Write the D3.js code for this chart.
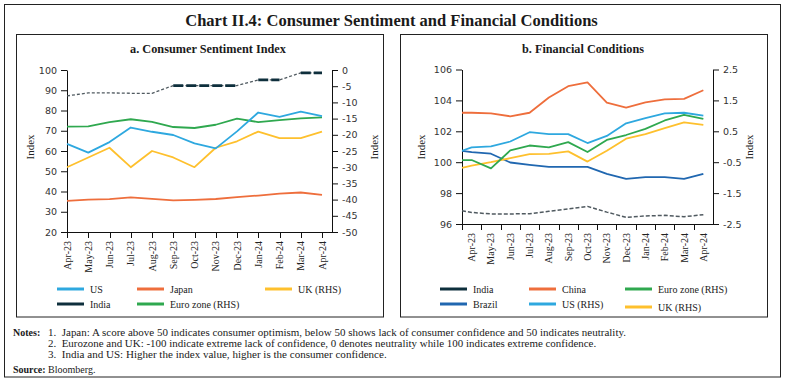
<!DOCTYPE html>
<html>
<head>
<meta charset="utf-8">
<script src="https://cdn.jsdelivr.net/npm/d3@7"></script>
<style>
  html, body { margin: 0; padding: 0; background: #fff; }
  svg { display: block; }
</style>
</head>
<body>
<svg id="chart" width="786" height="383"></svg>
<script>
// ---------------- DATA ----------------
const months = ["Apr-23","May-23","Jun-23","Jul-23","Aug-23","Sep-23","Oct-23","Nov-23","Dec-23","Jan-24","Feb-24","Mar-24","Apr-24"];

// Panel a: Consumer Sentiment Index
const usSent    = [63.5, 59.2, 64.4, 71.6, 69.5, 67.9, 63.8, 61.3, 69.7, 79.0, 76.9, 79.4, 77.2];
const japanSent = [35.4, 36.0, 36.2, 37.1, 36.4, 35.6, 35.9, 36.3, 37.2, 38.0, 39.0, 39.5, 38.3];
const indiaSent = [87.2, 88.7, 88.7, 88.5, 88.5, 92.3, 92.3, 92.3, 92.3, 95.1, 95.1, 98.6, 98.6];
const indiaSentSolid = [["Sep-23","Dec-23"], ["Jan-24","Feb-24"], ["Mar-24","Apr-24"]];
const ukSent    = [-30, -27, -24, -30, -25, -27, -30, -24, -22, -19, -21, -21, -19];       // RHS
const euroSent  = [-17.5, -17.4, -16.1, -15.2, -16.0, -17.6, -17.9, -16.9, -15.0, -16.1, -15.5, -14.9, -14.6]; // RHS

const sentLeftTicks  = [20, 30, 40, 50, 60, 70, 80, 90, 100];
const sentRightTicks = [-50, -45, -40, -35, -30, -25, -20, -15, -10, -5, 0];

// Panel b: Financial Conditions
const indiaFC  = [96.75, 96.65, 96.65, 96.67, 96.82, 96.97, 97.14, 96.77, 96.43, 96.52, 96.56, 96.47, 96.60];
const chinaFC  = [103.20, 103.16, 102.97, 103.20, 104.19, 104.92, 105.16, 103.85, 103.54, 103.87, 104.06, 104.10, 104.66];
const brazilFC = [100.65, 100.55, 99.98, 99.83, 99.70, 99.70, 99.70, 99.25, 98.92, 99.03, 99.03, 98.92, 99.25];
const usFC     = [-0.02, 0.01, 0.17, 0.47, 0.41, 0.41, 0.12, 0.35, 0.76, 0.93, 1.08, 1.10, 1.01];   // RHS
const euroFC   = [-0.43, -0.70, -0.12, 0.04, -0.02, 0.15, -0.17, 0.22, 0.38, 0.58, 0.85, 1.03, 0.90]; // RHS
const ukFC     = [-0.61, -0.50, -0.37, -0.24, -0.23, -0.15, -0.48, -0.13, 0.26, 0.41, 0.60, 0.79, 0.71]; // RHS
// value of each line where it meets the left axis (India, China, Brazil, US, Euro zone, UK)
const fcLeftEdge = [96.86, 103.20, 100.74, -0.13, -0.43, -0.68];

const fcLeftTicks  = [96, 98, 100, 102, 104, 106];
const fcRightTicks = [-2.5, -1.5, -0.5, 0.5, 1.5, 2.5];

const notes = [
  "1.  Japan: A score above 50 indicates consumer optimism, below 50 shows lack of consumer confidence and 50 indicates neutrality.",
  "2.  Eurozone and UK: -100 indicate extreme lack of confidence, 0 denotes neutrality while 100 indicates extreme confidence.",
  "3.  India and US: Higher the index value, higher is the consumer confidence."
];

// ---------------- STYLE ----------------
const C = {
  lightBlue: "#2EA8DF",
  orange: "#EE6E3C",
  yellow: "#FEC02D",
  dark: "#0E2F3C",
  green: "#2FA84F",
  blue: "#2067B0",
  dashGray: "#505a60"
};
const SERIF = "'Liberation Serif', 'DejaVu Serif', serif";
const SANS = "'DejaVu Sans', 'Liberation Sans', sans-serif";

const svg = d3.select("#chart");
svg.append("rect").attr("width", 786).attr("height", 383).attr("fill", "#fff");

function fitText(sel, width) {
  const node = sel.node();
  const w = node.getComputedTextLength();
  const fs = parseFloat(sel.attr("font-size"));
  sel.attr("font-size", (fs * width / w).toFixed(2));
  return sel;
}

// Outer frame and panels
svg.append("rect").attr("x", 4.5).attr("y", 4.5).attr("width", 776).attr("height", 372.5)
  .attr("fill", "none").attr("stroke", "#222").attr("stroke-width", 1);
svg.append("rect").attr("x", 16.5).attr("y", 34.5).attr("width", 367).attr("height", 282.5)
  .attr("fill", "none").attr("stroke", "#222").attr("stroke-width", 1);
svg.append("rect").attr("x", 400.5).attr("y", 34.5).attr("width", 367).attr("height", 282.5)
  .attr("fill", "none").attr("stroke", "#222").attr("stroke-width", 1);

// Title
fitText(svg.append("text").attr("x", 391.5).attr("y", 26).attr("text-anchor", "middle")
  .attr("font-family", SERIF).attr("font-weight", "bold").attr("font-size", 17).attr("fill", "#1a1a1a")
  .text("Chart II.4: Consumer Sentiment and Financial Conditions"), 413);

fitText(svg.append("text").attr("x", 208).attr("y", 53).attr("text-anchor", "middle")
  .attr("font-family", SERIF).attr("font-weight", "bold").attr("font-size", 12).attr("fill", "#1a1a1a")
  .text("a. Consumer Sentiment Index"), 156);
fitText(svg.append("text").attr("x", 583).attr("y", 53).attr("text-anchor", "middle")
  .attr("font-family", SERIF).attr("font-weight", "bold").attr("font-size", 12).attr("fill", "#1a1a1a")
  .text("b. Financial Conditions"), 122);

function styleAxis(g) {
  g.selectAll("path.domain").attr("stroke", "#111").attr("stroke-width", 1);
  g.selectAll(".tick line").attr("stroke", "#111");
  g.selectAll(".tick text").attr("fill", "#333").attr("font-family", SANS).attr("font-size", 9.5);
}

function indexLabel(x, y) {
  svg.append("text").attr("transform", `translate(${x},${y}) rotate(-90)`)
    .attr("text-anchor", "middle").attr("dy", "0.35em")
    .attr("font-family", SERIF).attr("font-size", 11).attr("fill", "#222").text("Index");
}

// ---------------- PANEL A ----------------
const xa = d3.scalePoint().domain(months).range([67, 322]);
const xaRight = 332;
const ya = d3.scaleLinear().domain([20, 100]).range([232, 70]);
const yaR = d3.scaleLinear().domain([-50, 0]).range([232, 70]);

const axA = svg.append("g").attr("transform", "translate(67,0)")
  .call(d3.axisLeft(ya).tickValues(sentLeftTicks).tickSize(6).tickSizeOuter(0).tickPadding(4));
styleAxis(axA);
const axAR = svg.append("g").attr("transform", `translate(${xaRight},0)`)
  .call(d3.axisRight(yaR).tickValues(sentRightTicks).tickSize(6).tickSizeOuter(0).tickPadding(4).tickFormat(d => String(d)));
styleAxis(axAR);

// x axis
svg.append("line").attr("x1", 67).attr("x2", xaRight).attr("y1", 232.5).attr("y2", 232.5).attr("stroke", "#111");
const xtA = svg.append("g");
xtA.selectAll("line").data(months).join("line")
  .attr("x1", d => Math.round(xa(d)) + 0.5).attr("x2", d => Math.round(xa(d)) + 0.5)
  .attr("y1", 232).attr("y2", 238).attr("stroke", "#111");
xtA.selectAll("text").data(months).join("text")
  .attr("transform", d => `translate(${xa(d)},241) rotate(-90)`)
  .attr("text-anchor", "end").attr("dy", "0.35em")
  .attr("font-family", SERIF).attr("font-size", 10).attr("fill", "#222").text(d => d);

indexLabel(30, 147);
indexLabel(374, 147);

const lineA = (yScale) => d3.line().x((d, i) => xa(months[i])).y(d => yScale(d));

function drawLine(data, gen, color, width, dash) {
  const p = svg.append("path").datum(data).attr("d", gen).attr("fill", "none")
    .attr("stroke", color).attr("stroke-width", width).attr("stroke-linejoin", "round");
  if (dash) p.attr("stroke-dasharray", dash);
  return p;
}

drawLine(japanSent, lineA(ya), C.orange, 1.8);
drawLine(euroSent, lineA(yaR), C.green, 1.8);
drawLine(ukSent, lineA(yaR), C.yellow, 1.8);
drawLine(usSent, lineA(ya), C.lightBlue, 1.8);
// India: dashed connector across months, solid where survey rounds repeat
drawLine(indiaSent, lineA(ya), C.dashGray, 1.3, "3,2");
indiaSolidSegments();
function indiaSolidSegments() {
  indiaSolid = indiaSentSolid.map(([a, b]) => {
    const i0 = months.indexOf(a), i1 = months.indexOf(b);
    return d3.range(i0, i1 + 1).map(i => [xa(months[i]), ya(indiaSent[i])]);
  });
  svg.append("g").selectAll("path").data(indiaSolid).join("path")
    .attr("d", d3.line()).attr("fill", "none").attr("stroke", C.dark)
    .attr("stroke-width", 2.6).attr("stroke-dasharray", "10,3");
}

// Legend panel a
const legendA = [
  { name: "US", color: C.lightBlue, x: 57, y: 289 },
  { name: "Japan", color: C.orange, x: 137, y: 289 },
  { name: "UK (RHS)", color: C.yellow, x: 265, y: 289 },
  { name: "India", color: C.dark, x: 57, y: 304 },
  { name: "Euro zone (RHS)", color: C.green, x: 137, y: 304 }
];
const legendB = [
  { name: "India", color: C.dark, x: 440, y: 289 },
  { name: "China", color: C.orange, x: 529, y: 289 },
  { name: "Euro zone (RHS)", color: C.green, x: 625, y: 289 },
  { name: "Brazil", color: C.blue, x: 440, y: 304 },
  { name: "US (RHS)", color: C.lightBlue, x: 529, y: 304 },
  { name: "UK (RHS)", color: C.yellow, x: 625, y: 307 }
];
function drawLegend(items) {
  const g = svg.append("g");
  const it = g.selectAll("g").data(items).join("g").attr("transform", d => `translate(${d.x},${d.y})`);
  it.append("line").attr("x1", 0).attr("x2", 27).attr("y1", 0).attr("y2", 0)
    .attr("stroke", d => d.color).attr("stroke-width", 3);
  it.append("text").attr("x", 33).attr("dy", "0.35em")
    .attr("font-family", SERIF).attr("font-size", 10).attr("fill", "#222").text(d => d.name);
}
drawLegend(legendA);

// ---------------- PANEL B ----------------
const xb = d3.scaleBand().domain(months).range([462, 713]);
const xbC = m => xb(m) + xb.bandwidth() / 2;
const yb = d3.scaleLinear().domain([96, 106]).range([224, 69.5]);
const ybR = d3.scaleLinear().domain([-2.5, 2.5]).range([224, 69.5]);

const axB = svg.append("g").attr("transform", "translate(462,0)")
  .call(d3.axisLeft(yb).tickValues(fcLeftTicks).tickSize(6).tickSizeOuter(0).tickPadding(4));
styleAxis(axB);
const axBR = svg.append("g").attr("transform", "translate(713,0)")
  .call(d3.axisRight(ybR).tickValues(fcRightTicks).tickSize(6).tickSizeOuter(0).tickPadding(4).tickFormat(d => String(d)));
styleAxis(axBR);

svg.append("line").attr("x1", 462).attr("x2", 713).attr("y1", 224.5).attr("y2", 224.5).attr("stroke", "#111");
const xtB = svg.append("g");
xtB.selectAll("line").data(months).join("line")
  .attr("x1", d => Math.round(xb(d)) + 0.5).attr("x2", d => Math.round(xb(d)) + 0.5)
  .attr("y1", 224).attr("y2", 230).attr("stroke", "#111");
xtB.selectAll("text").data(months).join("text")
  .attr("transform", d => `translate(${xbC(d)},233) rotate(-90)`)
  .attr("text-anchor", "end").attr("dy", "0.35em")
  .attr("font-family", SERIF).attr("font-size", 10).attr("fill", "#222").text(d => d);

indexLabel(421, 147);
indexLabel(749, 147);

function lineB(values, edge, yScale) {
  const pts = [[xb.range()[0], yScale(edge)]].concat(values.map((v, i) => [xbC(months[i]), yScale(v)]));
  return d3.line()(pts);
}
const fcSeries = [
  { v: indiaFC, edge: fcLeftEdge[0], y: yb, color: C.dashGray, w: 1.5, dash: "4,2" },
  { v: chinaFC, edge: fcLeftEdge[1], y: yb, color: C.orange, w: 1.8 },
  { v: brazilFC, edge: fcLeftEdge[2], y: yb, color: C.blue, w: 1.8 },
  { v: ukFC, edge: fcLeftEdge[5], y: ybR, color: C.yellow, w: 1.8 },
  { v: euroFC, edge: fcLeftEdge[4], y: ybR, color: C.green, w: 1.8 },
  { v: usFC, edge: fcLeftEdge[3], y: ybR, color: C.lightBlue, w: 1.8 }
];
fcSeries.forEach(s => {
  const p = svg.append("path").attr("d", lineB(s.v, s.edge, s.y)).attr("fill", "none")
    .attr("stroke", s.color).attr("stroke-width", s.w).attr("stroke-linejoin", "round");
  if (s.dash) p.attr("stroke-dasharray", s.dash);
});

drawLegend(legendB);

// ---------------- NOTES ----------------
const nt = svg.append("g").attr("font-family", SERIF).attr("fill", "#1a1a1a");
nt.append("text").attr("x", 13).attr("y", 336).attr("font-size", 10).attr("font-weight", "bold").text("Notes:");
const noteWidths = [578, 549, 339];
const noteY = [336, 347, 358];
notes.forEach((t, i) => {
  fitText(nt.append("text").attr("x", 48).attr("y", noteY[i]).attr("font-size", 10).attr("xml:space", "preserve").text(t), noteWidths[i]);
});
const src = nt.append("text").attr("x", 13).attr("y", 373).attr("font-size", 10);
src.append("tspan").attr("font-weight", "bold").text("Source:");
src.append("tspan").text(" Bloomberg.");
</script>
</body>
</html>
